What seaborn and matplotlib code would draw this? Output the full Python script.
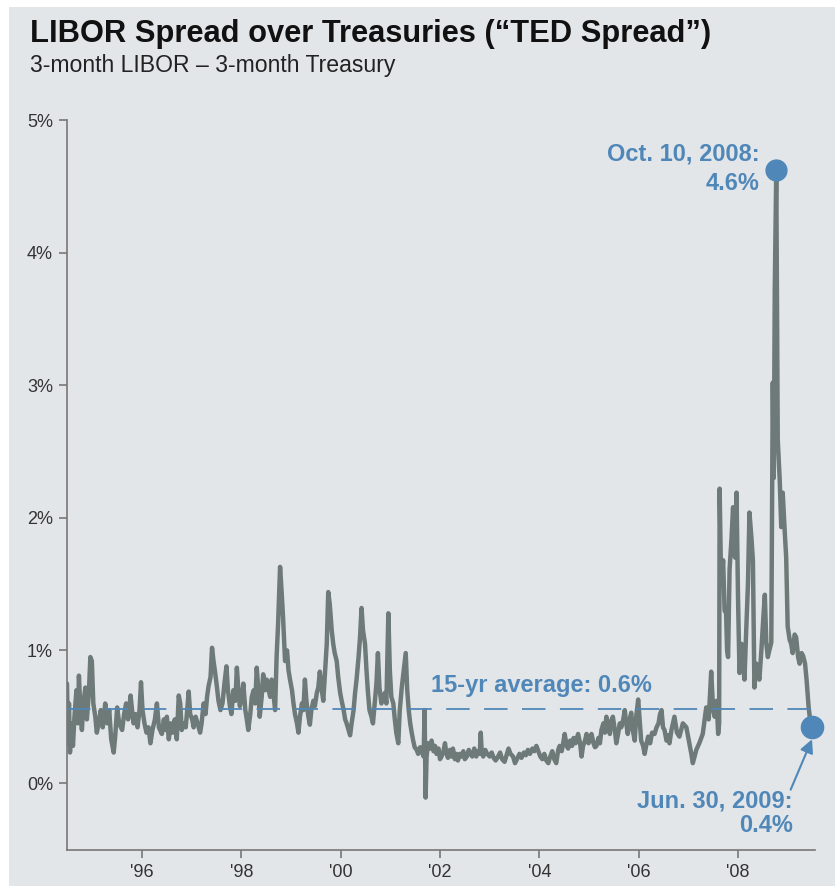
import seaborn as sns
import pandas as pd
import matplotlib.pyplot as plt
from matplotlib.patches import Rectangle

# TED spread (3m LIBOR - 3m T-bill), %
years = [
    1994.49, 1994.51, 1994.53, 1994.55, 1994.58, 1994.61, 1994.64, 1994.68, 1994.71, 1994.73,
    1994.76, 1994.79, 1994.82, 1994.86, 1994.89, 1994.93, 1994.96, 1994.99, 1995.02, 1995.06,
    1995.09, 1995.13, 1995.17, 1995.21, 1995.26, 1995.30, 1995.34, 1995.38, 1995.43, 1995.46,
    1995.50, 1995.54, 1995.60, 1995.64, 1995.68, 1995.72, 1995.77, 1995.80, 1995.83, 1995.87,
    1995.91, 1995.95, 1995.98, 1996.01, 1996.05, 1996.09, 1996.13, 1996.17, 1996.21, 1996.26,
    1996.30, 1996.34, 1996.40, 1996.44, 1996.47, 1996.50, 1996.54, 1996.58, 1996.62, 1996.66,
    1996.70, 1996.74, 1996.77, 1996.80, 1996.84, 1996.88, 1996.91, 1996.94, 1996.97, 1997.01,
    1997.04, 1997.08, 1997.12, 1997.17, 1997.20, 1997.24, 1997.28, 1997.31, 1997.34, 1997.38,
    1997.41, 1997.44, 1997.47, 1997.50, 1997.54, 1997.58,
    1997.62, 1997.66, 1997.70, 1997.73, 1997.77, 1997.80, 1997.84, 1997.88, 1997.91, 1997.94,
    1997.97, 1998.01, 1998.04, 1998.08, 1998.11, 1998.14, 1998.18, 1998.21, 1998.25, 1998.28,
    1998.31, 1998.34, 1998.37, 1998.41, 1998.44, 1998.48, 1998.51, 1998.54, 1998.58, 1998.61,
    1998.64, 1998.68, 1998.71, 1998.74, 1998.78, 1998.81, 1998.84, 1998.88, 1998.92, 1998.95,
    1998.98, 1999.02, 1999.05, 1999.08, 1999.12, 1999.15, 1999.18, 1999.22, 1999.25, 1999.28,
    1999.31, 1999.35, 1999.38, 1999.41, 1999.45, 1999.48, 1999.52, 1999.55, 1999.58, 1999.62,
    1999.65, 1999.68, 1999.72, 1999.75, 1999.78, 1999.82, 1999.85, 1999.88, 1999.92, 1999.95,
    1999.99, 2000.02, 2000.06, 2000.09, 2000.12, 2000.16, 2000.19, 2000.22, 2000.26, 2000.29,
    2000.32, 2000.36, 2000.39, 2000.42, 2000.45, 2000.49, 2000.52, 2000.55, 2000.58, 2000.62,
    2000.65,
    2000.68, 2000.72, 2000.75, 2000.78, 2000.82, 2000.85, 2000.89, 2000.92, 2000.96, 2000.99,
    2001.02, 2001.06, 2001.09, 2001.12, 2001.16, 2001.19, 2001.23, 2001.27, 2001.31, 2001.34,
    2001.37, 2001.40, 2001.43, 2001.46, 2001.49, 2001.53, 2001.56, 2001.60, 2001.63, 2001.67,
    2001.69, 2001.70, 2001.71, 2001.73, 2001.76, 2001.80, 2001.83, 2001.87, 2001.90, 2001.93,
    2001.97, 2002.00, 2002.03, 2002.07, 2002.10, 2002.13, 2002.16, 2002.20, 2002.23, 2002.26,
    2002.30, 2002.33, 2002.36, 2002.40, 2002.43, 2002.47, 2002.50, 2002.54, 2002.58, 2002.61,
    2002.65, 2002.69, 2002.73, 2002.77, 2002.80, 2002.82, 2002.84, 2002.87, 2002.91, 2002.95,
    2003.00, 2003.04, 2003.08, 2003.12, 2003.17, 2003.21, 2003.25, 2003.30, 2003.34, 2003.38,
    2003.42, 2003.47, 2003.51, 2003.55, 2003.60, 2003.64,
    2003.69, 2003.73, 2003.77, 2003.81, 2003.86, 2003.90, 2003.94, 2003.98, 2004.02, 2004.06,
    2004.10, 2004.14, 2004.18, 2004.22, 2004.26, 2004.30, 2004.34, 2004.38, 2004.41, 2004.45,
    2004.48, 2004.51, 2004.55, 2004.58, 2004.62, 2004.66, 2004.69, 2004.73, 2004.78, 2004.82,
    2004.85, 2004.88, 2004.92, 2004.95, 2004.99, 2005.02, 2005.05, 2005.09, 2005.12, 2005.15,
    2005.19, 2005.22, 2005.25, 2005.29, 2005.32, 2005.35, 2005.39, 2005.42, 2005.45, 2005.48,
    2005.52, 2005.55, 2005.59, 2005.62, 2005.65, 2005.69, 2005.72, 2005.75, 2005.78, 2005.82,
    2005.85, 2005.88, 2005.92, 2005.95, 2005.99, 2006.02, 2006.05, 2006.09, 2006.12, 2006.15,
    2006.19, 2006.23, 2006.27, 2006.32, 2006.36, 2006.40, 2006.43, 2006.46, 2006.49, 2006.52,
    2006.56, 2006.59, 2006.62, 2006.66, 2006.69,
    2006.72, 2006.77, 2006.82, 2006.89, 2006.96, 2007.02, 2007.06, 2007.09, 2007.16, 2007.22,
    2007.29, 2007.36, 2007.41, 2007.46, 2007.50, 2007.53, 2007.57,
    2007.60, 2007.62, 2007.63, 2007.66, 2007.70, 2007.73, 2007.76, 2007.78, 2007.80, 2007.83,
    2007.87, 2007.90, 2007.94, 2007.97, 2008.00, 2008.03, 2008.07, 2008.10, 2008.13, 2008.16,
    2008.20, 2008.23, 2008.27, 2008.30, 2008.33, 2008.37, 2008.40, 2008.43, 2008.47, 2008.51,
    2008.54, 2008.57, 2008.60, 2008.63, 2008.67, 2008.70, 2008.72, 2008.74, 2008.77, 2008.80,
    2008.84, 2008.87, 2008.90, 2008.94, 2008.97, 2009.00, 2009.04, 2009.07, 2009.10, 2009.14,
    2009.17, 2009.21, 2009.24, 2009.28, 2009.31, 2009.35, 2009.38, 2009.42, 2009.45, 2009.48,
]
spread = [
    0.75, 0.30, 0.60, 0.23, 0.45, 0.28, 0.50, 0.70, 0.45, 0.81,
    0.55, 0.40, 0.60, 0.72, 0.48, 0.68, 0.95, 0.92, 0.60, 0.50,
    0.38, 0.45, 0.55, 0.42, 0.60, 0.45, 0.55, 0.33, 0.23, 0.35,
    0.57, 0.45, 0.40, 0.52, 0.60, 0.48, 0.66, 0.55, 0.45, 0.52,
    0.42, 0.55, 0.76, 0.55, 0.45, 0.38, 0.42, 0.30, 0.40, 0.48,
    0.60, 0.42, 0.37, 0.48, 0.40, 0.50, 0.33, 0.45, 0.38, 0.48,
    0.33, 0.66, 0.60, 0.40, 0.45, 0.42, 0.55, 0.69, 0.52, 0.48,
    0.42, 0.50, 0.45, 0.38, 0.45, 0.60, 0.52, 0.65, 0.73, 0.80,
    1.02, 0.92, 0.84, 0.75, 0.62, 0.55,
    0.60, 0.75, 0.88, 0.70, 0.58, 0.52, 0.70, 0.62, 0.87, 0.70,
    0.58, 0.65, 0.75, 0.55, 0.48, 0.40, 0.52, 0.65, 0.70, 0.60,
    0.87, 0.72, 0.50, 0.65, 0.82, 0.70, 0.78, 0.72, 0.65, 0.78,
    0.70, 0.55, 0.95, 1.20, 1.63, 1.45, 1.25, 0.92, 1.00, 0.85,
    0.78, 0.70, 0.60, 0.52, 0.45, 0.38, 0.50, 0.60, 0.55, 0.78,
    0.62, 0.50, 0.44, 0.55, 0.62, 0.58, 0.68, 0.72, 0.84, 0.70,
    0.62, 0.80, 1.05, 1.44, 1.35, 1.15, 1.05, 0.98, 0.92, 0.80,
    0.68, 0.62, 0.55, 0.48, 0.45, 0.40, 0.36, 0.45, 0.55, 0.68,
    0.78, 0.95, 1.10, 1.32, 1.15, 1.05, 0.85, 0.68, 0.55, 0.50,
    0.45,
    0.58, 0.75, 0.98, 0.72, 0.60, 0.65, 0.68, 0.60, 1.28, 0.85,
    0.65, 0.60, 0.48, 0.38, 0.30, 0.55, 0.72, 0.85, 0.98, 0.70,
    0.55, 0.45, 0.38, 0.32, 0.27, 0.25, 0.22, 0.27, 0.24, 0.20,
    0.55, 0.25, -0.11, 0.20, 0.30, 0.26, 0.32, 0.24, 0.28, 0.22,
    0.26, 0.18, 0.20, 0.24, 0.30, 0.22, 0.19, 0.25, 0.20, 0.26,
    0.18, 0.22, 0.17, 0.22, 0.20, 0.24, 0.18, 0.20, 0.25, 0.22,
    0.20, 0.26, 0.20, 0.24, 0.22, 0.38, 0.23, 0.20, 0.25, 0.22,
    0.20, 0.23, 0.19, 0.17, 0.20, 0.23, 0.18, 0.16, 0.21, 0.26,
    0.22, 0.20, 0.15, 0.18, 0.22, 0.19,
    0.23, 0.21, 0.25, 0.22, 0.26, 0.24, 0.28, 0.24, 0.20, 0.18,
    0.22, 0.17, 0.15, 0.20, 0.24, 0.18, 0.15, 0.25, 0.28, 0.24,
    0.30, 0.37, 0.28, 0.26, 0.32, 0.28, 0.34, 0.30, 0.37, 0.30,
    0.20, 0.28, 0.32, 0.37, 0.30, 0.34, 0.37, 0.30, 0.27, 0.28,
    0.34, 0.30, 0.40, 0.45, 0.38, 0.50, 0.43, 0.37, 0.47, 0.50,
    0.40, 0.30, 0.38, 0.45, 0.42, 0.48, 0.55, 0.45, 0.37, 0.48,
    0.53, 0.40, 0.32, 0.50, 0.63, 0.48, 0.32, 0.28, 0.22, 0.28,
    0.35, 0.30, 0.38, 0.37, 0.42, 0.45, 0.52, 0.55, 0.42, 0.40,
    0.32, 0.36, 0.30, 0.40, 0.45,
    0.50, 0.38, 0.35, 0.45, 0.42, 0.30, 0.22, 0.15, 0.25, 0.30,
    0.37, 0.57, 0.48, 0.84, 0.55, 0.50, 0.62,
    0.37, 0.45, 2.22, 1.50, 1.68, 1.30, 1.28, 1.00, 0.95, 1.61,
    1.85, 2.08, 1.70, 2.19, 1.40, 0.83, 1.05, 0.90, 0.78, 1.10,
    1.50, 2.04, 1.85, 1.68, 0.72, 0.90, 0.85, 0.78, 1.00, 1.25,
    1.42, 1.05, 0.95, 1.00, 1.06, 3.02, 2.30, 3.72, 4.62, 2.59,
    2.28, 1.93, 2.19, 1.90, 1.70, 1.18, 1.08, 1.05, 0.98, 1.12,
    1.10, 0.95, 0.90, 0.98, 0.96, 0.90, 0.78, 0.58, 0.48, 0.42,
]
avg_15yr = 0.56
x_ticks = [1996, 1998, 2000, 2002, 2004, 2006, 2008]
x_labels = ["'96", "'98", "'00", "'02", "'04", "'06", "'08"]
y_ticks = [0, 1, 2, 3, 4, 5]
y_labels = ["0%", "1%", "2%", "3%", "4%", "5%"]

df = pd.DataFrame({'year': years, 'spread': spread})

BG = '#e3e6e8'
LINE = '#6e7a77'
BLUE = '#5087b9'

sns.set_theme(style="white")
plt.rcParams['font.family'] = ['Liberation Sans', 'DejaVu Sans']

fig = plt.figure(figsize=(8.35, 8.86), dpi=100, facecolor='white')
fig.patches.append(Rectangle((9 / 835, 0), 1, 1 - 7 / 886, transform=fig.transFigure,
                             facecolor=BG, edgecolor='none', zorder=-10))
ax = fig.add_axes([67 / 835, 1 - 850 / 886, (815 - 67) / 835, (850 - 120) / 886])
ax.set_facecolor(BG)

sns.lineplot(data=df, x='year', y='spread', ax=ax, color=LINE, linewidth=3.2,
             estimator=None, sort=False)
ax.hlines(avg_15yr, df['year'].iloc[0], df['year'].iloc[-1], color=BLUE, linewidth=1.3,
          linestyles=(0, (13, 8)), zorder=3)

# highlight points
peak = df.loc[df['spread'].idxmax()]
last = df.iloc[-1]
ax.plot([peak['year']], [peak['spread']], 'o', color=BLUE, markersize=15, zorder=5)
ax.plot([last['year']], [last['spread']], 'o', color=BLUE, markersize=16, zorder=5,
        clip_on=False)

lab = dict(color=BLUE, fontsize=17, fontweight='bold', va='baseline')
ax.text(2008.44, 4.695, "Oct. 10, 2008:", ha='right', **lab)
ax.text(2008.44, 4.472, "4.6%", ha='right', **lab)
ax.text(2001.81, 0.686, "15-yr average: 0.6%", ha='left', **lab)
ax.text(2009.10, -0.181, "Jun. 30, 2009:", ha='right', **lab)
ax.text(2009.10, -0.37, "0.4%", ha='right', **lab)
ax.annotate('', xy=(last['year'] + 0.01, last['spread'] - 0.09), xytext=(2009.06, -0.05),
            arrowprops=dict(arrowstyle='-|>', color=BLUE, lw=1.5, mutation_scale=20,
                            shrinkA=0, shrinkB=0))

ax.set_xlim(1994.49, 2009.55)
ax.set_ylim(-0.505, 5)
ax.set_xticks(x_ticks)
ax.set_xticklabels(x_labels)
ax.set_yticks(y_ticks)
ax.set_yticklabels(y_labels)
ax.set_xlabel('')
ax.set_ylabel('')
for side in ['top', 'right']:
    ax.spines[side].set_visible(False)
for side in ['left', 'bottom']:
    ax.spines[side].set_color('#777777')
    ax.spines[side].set_linewidth(1.2)
ax.tick_params(axis='both', which='major', direction='out', length=6, width=1.2,
               color='#777777', labelsize=13, labelcolor='#333333', pad=4,
               left=True, bottom=True)

fig.text(30 / 835, 1 - 42 / 886, "LIBOR Spread over Treasuries (\u201cTED Spread\u201d)",
         fontsize=22.2, fontweight='bold', color='#111111', ha='left', va='baseline')
fig.text(30 / 835, 1 - 72 / 886, "3-month LIBOR \u2013 3-month Treasury",
         fontsize=16.6, color='#222222', ha='left', va='baseline')

plt.savefig('out.png', dpi=100, facecolor=fig.get_facecolor())
